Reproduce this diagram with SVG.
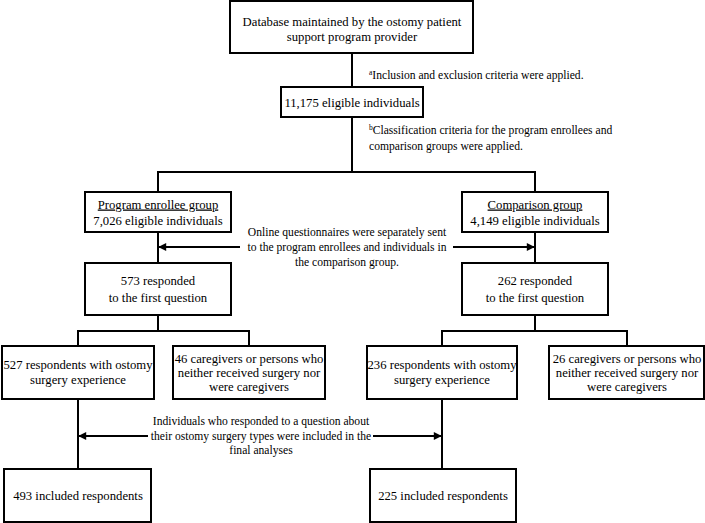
<svg xmlns="http://www.w3.org/2000/svg" width="705" height="523" viewBox="0 0 705 523">
<style>
.box{fill:#fff;stroke:#000;stroke-width:2}
.ln{fill:none;stroke:#000;stroke-width:2}
.ar{fill:none;stroke:#000;stroke-width:2;marker-end:url(#ah)}
text{font-family:"Liberation Serif","Times New Roman",serif;font-size:12.7px;fill:#000}
.c{text-anchor:middle}
.sm{font-size:11.6px}
.sup{font-size:7.5px}
</style>
<defs>
<marker id="ah" viewBox="0 0 10 10" refX="9" refY="5" markerWidth="4.5" markerHeight="4" orient="auto" markerUnits="strokeWidth">
<path d="M0,0 L10,5 L0,10 z" fill="#000"/>
</marker>
</defs>
<rect width="705" height="523" fill="#fff"/>
<g id="connectors">
<line class="ln" x1="352" y1="53" x2="352" y2="87"/>
<line class="ln" x1="352" y1="117" x2="352" y2="172"/>
<polyline class="ln" points="158,192 158,172 535,172 535,192"/>
<line class="ln" x1="158" y1="232" x2="158" y2="263"/>
<line class="ln" x1="535" y1="232" x2="535" y2="263"/>
<line class="ar" x1="240" y1="247" x2="159" y2="247"/>
<line class="ar" x1="453" y1="247" x2="534" y2="247"/>
<line class="ln" x1="158" y1="315" x2="158" y2="331"/>
<polyline class="ln" points="78,346 78,331 249,331 249,346"/>
<line class="ln" x1="535" y1="315" x2="535" y2="331"/>
<polyline class="ln" points="442,346 442,331 627,331 627,346"/>
<line class="ln" x1="78" y1="399" x2="78" y2="469"/>
<line class="ln" x1="442" y1="399" x2="442" y2="469"/>
<line class="ar" x1="148" y1="436" x2="79" y2="436"/>
<line class="ar" x1="373" y1="436" x2="441" y2="436"/>
</g>
<g id="label-a">
<text x="369" y="79" class="sm"><tspan class="sup" dy="-4.5">a</tspan><tspan dy="4.5">Inclusion and exclusion criteria were applied.</tspan></text>
</g>
<g id="label-b">
<text x="369" y="134" class="sm"><tspan class="sup" dy="-4.5">b</tspan><tspan dy="4.5">Classification criteria for the program enrollees and</tspan></text>
<text x="369" y="150" class="sm">comparison groups were applied.</text>
</g>
<g id="label-online">
<text x="347" y="236" class="c sm">Online questionnaires were separately sent</text>
<text x="347" y="251" class="c sm">to the program enrollees and individuals in</text>
<text x="347" y="266" class="c sm">the comparison group.</text>
</g>
<g id="label-individuals">
<text x="261" y="425" class="c sm">Individuals who responded to a question about</text>
<text x="261" y="439.5" class="c sm">their ostomy surgery types were included in the</text>
<text x="261" y="454" class="c sm">final analyses</text>
</g>
<g id="n-database">
<rect class="box" x="230" y="1" width="243" height="52"/>
<text x="352" y="26" class="c">Database maintained by the ostomy patient</text>
<text x="352" y="41" class="c">support program provider</text>
</g>
<g id="n-eligible">
<rect class="box" x="281" y="87" width="142" height="30"/>
<text x="352" y="106.5" class="c">11,175 eligible individuals</text>
</g>
<g id="n-program">
<rect class="box" x="85" y="192" width="146" height="40"/>
<text x="158" y="208.5" class="c" text-decoration="underline">Program enrollee group</text>
<text x="158" y="225" class="c">7,026 eligible individuals</text>
</g>
<g id="n-comparison">
<rect class="box" x="462" y="192" width="146" height="40"/>
<text x="535" y="208.5" class="c" text-decoration="underline">Comparison group</text>
<text x="535" y="225" class="c">4,149 eligible individuals</text>
</g>
<g id="n-573">
<rect class="box" x="85" y="263" width="146" height="52"/>
<text x="158" y="284.5" class="c">573 responded</text>
<text x="158" y="302" class="c">to the first question</text>
</g>
<g id="n-262">
<rect class="box" x="462" y="263" width="146" height="52"/>
<text x="535" y="284.5" class="c">262 responded</text>
<text x="535" y="302" class="c">to the first question</text>
</g>
<g id="n-527">
<rect class="box" x="2" y="346" width="152" height="53"/>
<text x="78" y="369" class="c">527 respondents with ostomy</text>
<text x="78" y="383.5" class="c">surgery experience</text>
</g>
<g id="n-46">
<rect class="box" x="173" y="346" width="152" height="53"/>
<text x="249" y="363" class="c">46 caregivers or persons who</text>
<text x="249" y="377" class="c">neither received surgery nor</text>
<text x="249" y="391" class="c">were caregivers</text>
</g>
<g id="n-236">
<rect class="box" x="367" y="346" width="150" height="53"/>
<text x="442" y="369" class="c">236 respondents with ostomy</text>
<text x="442" y="383.5" class="c">surgery experience</text>
</g>
<g id="n-26">
<rect class="box" x="549" y="346" width="155" height="53"/>
<text x="627" y="363" class="c">26 caregivers or persons who</text>
<text x="627" y="377" class="c">neither received surgery nor</text>
<text x="627" y="391" class="c">were caregivers</text>
</g>
<g id="n-493">
<rect class="box" x="4" y="469" width="147" height="53"/>
<text x="78" y="499.5" class="c">493 included respondents</text>
</g>
<g id="n-225">
<rect class="box" x="370" y="469" width="146" height="53"/>
<text x="443" y="499.5" class="c">225 included respondents</text>
</g>
</svg>
